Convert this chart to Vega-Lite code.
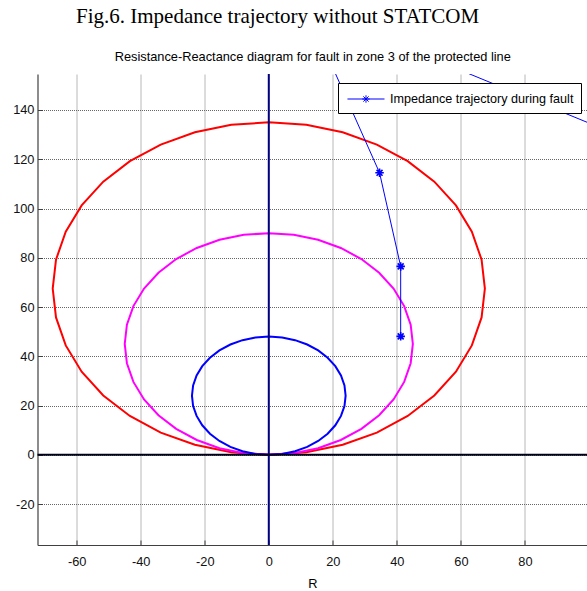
{
  "$schema": "https://vega.github.io/schema/vega-lite/v6.json",
  "width": 549.5,
  "height": 471,
  "autosize": {"type": "none"},
  "padding": {"left": 37.5, "top": 74, "right": 0, "bottom": 46},
  "background": "white",
  "title": {
    "text": "Fig.6. Impedance trajectory without STATCOM",
    "anchor": "start",
    "frame": "group",
    "dx": 38.5,
    "offset": 23,
    "font": "Liberation Serif, Times New Roman, serif",
    "fontSize": 21,
    "fontWeight": "normal",
    "color": "#000000"
  },
  "datasets": {
    "circles": [
      {"c": "#ff0000", "i": 0, "R": 0, "X": 0},
      {"c": "#ff0000", "i": 1, "R": 11.72, "X": 1.03},
      {"c": "#ff0000", "i": 2, "R": 23.09, "X": 4.07},
      {"c": "#ff0000", "i": 3, "R": 33.75, "X": 9.04},
      {"c": "#ff0000", "i": 4, "R": 43.39, "X": 15.79},
      {"c": "#ff0000", "i": 5, "R": 51.71, "X": 24.11},
      {"c": "#ff0000", "i": 6, "R": 58.46, "X": 33.75},
      {"c": "#ff0000", "i": 7, "R": 63.43, "X": 44.41},
      {"c": "#ff0000", "i": 8, "R": 66.47, "X": 55.78},
      {"c": "#ff0000", "i": 9, "R": 67.5, "X": 67.5},
      {"c": "#ff0000", "i": 10, "R": 66.47, "X": 79.22},
      {"c": "#ff0000", "i": 11, "R": 63.43, "X": 90.59},
      {"c": "#ff0000", "i": 12, "R": 58.46, "X": 101.25},
      {"c": "#ff0000", "i": 13, "R": 51.71, "X": 110.89},
      {"c": "#ff0000", "i": 14, "R": 43.39, "X": 119.21},
      {"c": "#ff0000", "i": 15, "R": 33.75, "X": 125.96},
      {"c": "#ff0000", "i": 16, "R": 23.09, "X": 130.93},
      {"c": "#ff0000", "i": 17, "R": 11.72, "X": 133.97},
      {"c": "#ff0000", "i": 18, "R": 0, "X": 135},
      {"c": "#ff0000", "i": 19, "R": -11.72, "X": 133.97},
      {"c": "#ff0000", "i": 20, "R": -23.09, "X": 130.93},
      {"c": "#ff0000", "i": 21, "R": -33.75, "X": 125.96},
      {"c": "#ff0000", "i": 22, "R": -43.39, "X": 119.21},
      {"c": "#ff0000", "i": 23, "R": -51.71, "X": 110.89},
      {"c": "#ff0000", "i": 24, "R": -58.46, "X": 101.25},
      {"c": "#ff0000", "i": 25, "R": -63.43, "X": 90.59},
      {"c": "#ff0000", "i": 26, "R": -66.47, "X": 79.22},
      {"c": "#ff0000", "i": 27, "R": -67.5, "X": 67.5},
      {"c": "#ff0000", "i": 28, "R": -66.47, "X": 55.78},
      {"c": "#ff0000", "i": 29, "R": -63.43, "X": 44.41},
      {"c": "#ff0000", "i": 30, "R": -58.46, "X": 33.75},
      {"c": "#ff0000", "i": 31, "R": -51.71, "X": 24.11},
      {"c": "#ff0000", "i": 32, "R": -43.39, "X": 15.79},
      {"c": "#ff0000", "i": 33, "R": -33.75, "X": 9.04},
      {"c": "#ff0000", "i": 34, "R": -23.09, "X": 4.07},
      {"c": "#ff0000", "i": 35, "R": -11.72, "X": 1.03},
      {"c": "#ff0000", "i": 36, "R": 0, "X": 0},
      {"c": "#ff00ff", "i": 0, "R": 0, "X": 0},
      {"c": "#ff00ff", "i": 1, "R": 7.81, "X": 0.68},
      {"c": "#ff00ff", "i": 2, "R": 15.39, "X": 2.71},
      {"c": "#ff00ff", "i": 3, "R": 22.5, "X": 6.03},
      {"c": "#ff00ff", "i": 4, "R": 28.93, "X": 10.53},
      {"c": "#ff00ff", "i": 5, "R": 34.47, "X": 16.07},
      {"c": "#ff00ff", "i": 6, "R": 38.97, "X": 22.5},
      {"c": "#ff00ff", "i": 7, "R": 42.29, "X": 29.61},
      {"c": "#ff00ff", "i": 8, "R": 44.32, "X": 37.19},
      {"c": "#ff00ff", "i": 9, "R": 45, "X": 45},
      {"c": "#ff00ff", "i": 10, "R": 44.32, "X": 52.81},
      {"c": "#ff00ff", "i": 11, "R": 42.29, "X": 60.39},
      {"c": "#ff00ff", "i": 12, "R": 38.97, "X": 67.5},
      {"c": "#ff00ff", "i": 13, "R": 34.47, "X": 73.93},
      {"c": "#ff00ff", "i": 14, "R": 28.93, "X": 79.47},
      {"c": "#ff00ff", "i": 15, "R": 22.5, "X": 83.97},
      {"c": "#ff00ff", "i": 16, "R": 15.39, "X": 87.29},
      {"c": "#ff00ff", "i": 17, "R": 7.81, "X": 89.32},
      {"c": "#ff00ff", "i": 18, "R": 0, "X": 90},
      {"c": "#ff00ff", "i": 19, "R": -7.81, "X": 89.32},
      {"c": "#ff00ff", "i": 20, "R": -15.39, "X": 87.29},
      {"c": "#ff00ff", "i": 21, "R": -22.5, "X": 83.97},
      {"c": "#ff00ff", "i": 22, "R": -28.93, "X": 79.47},
      {"c": "#ff00ff", "i": 23, "R": -34.47, "X": 73.93},
      {"c": "#ff00ff", "i": 24, "R": -38.97, "X": 67.5},
      {"c": "#ff00ff", "i": 25, "R": -42.29, "X": 60.39},
      {"c": "#ff00ff", "i": 26, "R": -44.32, "X": 52.81},
      {"c": "#ff00ff", "i": 27, "R": -45, "X": 45},
      {"c": "#ff00ff", "i": 28, "R": -44.32, "X": 37.19},
      {"c": "#ff00ff", "i": 29, "R": -42.29, "X": 29.61},
      {"c": "#ff00ff", "i": 30, "R": -38.97, "X": 22.5},
      {"c": "#ff00ff", "i": 31, "R": -34.47, "X": 16.07},
      {"c": "#ff00ff", "i": 32, "R": -28.93, "X": 10.53},
      {"c": "#ff00ff", "i": 33, "R": -22.5, "X": 6.03},
      {"c": "#ff00ff", "i": 34, "R": -15.39, "X": 2.71},
      {"c": "#ff00ff", "i": 35, "R": -7.81, "X": 0.68},
      {"c": "#ff00ff", "i": 36, "R": 0, "X": 0},
      {"c": "#0000ff", "i": 0, "R": 0, "X": 0},
      {"c": "#0000ff", "i": 1, "R": 4.17, "X": 0.36},
      {"c": "#0000ff", "i": 2, "R": 8.21, "X": 1.45},
      {"c": "#0000ff", "i": 3, "R": 12, "X": 3.22},
      {"c": "#0000ff", "i": 4, "R": 15.43, "X": 5.62},
      {"c": "#0000ff", "i": 5, "R": 18.38, "X": 8.57},
      {"c": "#0000ff", "i": 6, "R": 20.78, "X": 12},
      {"c": "#0000ff", "i": 7, "R": 22.55, "X": 15.79},
      {"c": "#0000ff", "i": 8, "R": 23.64, "X": 19.83},
      {"c": "#0000ff", "i": 9, "R": 24, "X": 24},
      {"c": "#0000ff", "i": 10, "R": 23.64, "X": 28.17},
      {"c": "#0000ff", "i": 11, "R": 22.55, "X": 32.21},
      {"c": "#0000ff", "i": 12, "R": 20.78, "X": 36},
      {"c": "#0000ff", "i": 13, "R": 18.38, "X": 39.43},
      {"c": "#0000ff", "i": 14, "R": 15.43, "X": 42.38},
      {"c": "#0000ff", "i": 15, "R": 12, "X": 44.78},
      {"c": "#0000ff", "i": 16, "R": 8.21, "X": 46.55},
      {"c": "#0000ff", "i": 17, "R": 4.17, "X": 47.64},
      {"c": "#0000ff", "i": 18, "R": 0, "X": 48},
      {"c": "#0000ff", "i": 19, "R": -4.17, "X": 47.64},
      {"c": "#0000ff", "i": 20, "R": -8.21, "X": 46.55},
      {"c": "#0000ff", "i": 21, "R": -12, "X": 44.78},
      {"c": "#0000ff", "i": 22, "R": -15.43, "X": 42.38},
      {"c": "#0000ff", "i": 23, "R": -18.38, "X": 39.43},
      {"c": "#0000ff", "i": 24, "R": -20.78, "X": 36},
      {"c": "#0000ff", "i": 25, "R": -22.55, "X": 32.21},
      {"c": "#0000ff", "i": 26, "R": -23.64, "X": 28.17},
      {"c": "#0000ff", "i": 27, "R": -24, "X": 24},
      {"c": "#0000ff", "i": 28, "R": -23.64, "X": 19.83},
      {"c": "#0000ff", "i": 29, "R": -22.55, "X": 15.79},
      {"c": "#0000ff", "i": 30, "R": -20.78, "X": 12},
      {"c": "#0000ff", "i": 31, "R": -18.38, "X": 8.57},
      {"c": "#0000ff", "i": 32, "R": -15.43, "X": 5.62},
      {"c": "#0000ff", "i": 33, "R": -12, "X": 3.22},
      {"c": "#0000ff", "i": 34, "R": -8.21, "X": 1.45},
      {"c": "#0000ff", "i": 35, "R": -4.17, "X": 0.36},
      {"c": "#0000ff", "i": 36, "R": 0, "X": 0}
    ],
    "traj": [
      {"s": "Impedance trajectory during fault", "i": 0, "R": 41.2, "X": 48.1},
      {"s": "Impedance trajectory during fault", "i": 1, "R": 41.2, "X": 76.5},
      {"s": "Impedance trajectory during fault", "i": 2, "R": 34.6, "X": 114.5},
      {"s": "Impedance trajectory during fault", "i": 3, "R": 11.5, "X": 182},
      {"s": "Impedance trajectory during fault", "i": 4, "R": 120, "X": 124}
    ]
  },
  "layer": [
    {
      "data": {"name": "circles"},
      "mark": {"type": "line", "strokeWidth": 2, "clip": true},
      "encoding": {
        "x": {
          "field": "R", "type": "quantitative",
          "scale": {"domain": [-72.25, 99.4], "nice": false, "zero": false},
          "axis": {
            "orient": "bottom",
            "values": [-60, -40, -20, 0, 20, 40, 60, 80],
            "labelExpr": "'' + datum.value",
            "title": "R",
            "grid": true, "gridColor": "#b8b8b8", "gridWidth": 1,
            "domainColor": "#404040", "domainWidth": 1.2,
            "tickColor": "#404040", "tickSize": -5,
            "labelPadding": 15, "titlePadding": 10,
            "labelFlush": false, "labelOverlap": false
          }
        },
        "y": {
          "field": "X", "type": "quantitative",
          "scale": {"domain": [-36.6, 154.6], "nice": false, "zero": false},
          "axis": {
            "values": [-20, 0, 20, 40, 60, 80, 100, 120, 140],
            "labelExpr": "'' + datum.value",
            "title": null,
            "grid": true, "gridColor": "#666666", "gridDash": [1, 1], "gridWidth": 1,
            "domainColor": "#404040", "domainWidth": 1.2,
            "tickColor": "#404040", "tickSize": -5,
            "labelPadding": 8.5,
            "labelFlush": false, "labelOverlap": false
          }
        },
        "stroke": {"field": "c", "type": "nominal", "scale": null, "legend": null},
        "order": {"field": "i", "type": "quantitative"}
      }
    },
    {
      "data": {"values": [{"R": 0}]},
      "mark": {"type": "rule", "color": "#000080", "strokeWidth": 2},
      "encoding": {
        "x": {"field": "R", "type": "quantitative", "axis": null}
      }
    },
    {
      "data": {"values": [{"X": 0}]},
      "mark": {"type": "rule", "color": "#00001a", "strokeWidth": 2},
      "encoding": {
        "y": {"field": "X", "type": "quantitative", "axis": {"title": null}}
      }
    },
    {
      "data": {"name": "traj"},
      "mark": {"type": "line", "strokeWidth": 1, "clip": true},
      "encoding": {
        "x": {
          "field": "R", "type": "quantitative",
          "axis": {
            "orient": "top",
            "title": "Resistance-Reactance diagram for fault in zone 3 of the protected line",
            "labels": false, "ticks": false, "domain": false, "grid": false,
            "titlePadding": 11
          }
        },
        "y": {"field": "X", "type": "quantitative", "axis": {"title": null}},
        "color": {
          "field": "s", "type": "nominal",
          "scale": {"domain": ["Impedance trajectory during fault"], "range": ["#0000ff"]},
          "legend": {
            "orient": "none", "legendX": 300.5, "legendY": 9, "title": null,
            "strokeColor": "#000000", "fillColor": "#ffffff", "padding": 7,
            "symbolType": "M-0.77,0L3.59,0M1.41,-0.435L1.41,0.435M0.975,0L1.845,0M1.1,-0.31L1.72,0.31M1.1,0.31L1.72,-0.31",
            "symbolSize": 289, "symbolStrokeWidth": 1, "symbolStrokeColor": "#0000ff",
            "symbolFillColor": "transparent",
            "labelOffset": 27, "labelLimit": 0, "cornerRadius": 0
          }
        },
        "order": {"field": "i", "type": "quantitative"}
      }
    },
    {
      "data": {"name": "traj"},
      "mark": {
        "type": "point", "shape": "M-1,0L1,0M0,-1L0,1M-0.7,-0.7L0.7,0.7M-0.7,0.7L0.7,-0.7",
        "filled": false, "size": 72, "strokeWidth": 1.6, "opacity": 1, "clip": true
      },
      "encoding": {
        "x": {"field": "R", "type": "quantitative", "axis": null},
        "y": {"field": "X", "type": "quantitative", "axis": {"title": null}},
        "color": {
          "field": "s", "type": "nominal",
          "scale": {"domain": ["Impedance trajectory during fault"], "range": ["#0000ff"]},
          "legend": {
            "orient": "none", "legendX": 300.5, "legendY": 9, "title": null,
            "strokeColor": "#000000", "fillColor": "#ffffff", "padding": 7,
            "symbolType": "M-0.77,0L3.59,0M1.41,-0.435L1.41,0.435M0.975,0L1.845,0M1.1,-0.31L1.72,0.31M1.1,0.31L1.72,-0.31",
            "symbolSize": 289, "symbolStrokeWidth": 1, "symbolStrokeColor": "#0000ff",
            "symbolFillColor": "transparent",
            "labelOffset": 27, "labelLimit": 0, "cornerRadius": 0
          }
        }
      }
    }
  ],
  "resolve": {"axis": {"x": "independent"}},
  "config": {
    "view": {"stroke": null},
    "font": "Liberation Sans, Arial, sans-serif",
    "axis": {
      "labelFont": "Liberation Sans, Arial, sans-serif",
      "labelFontSize": 12.8,
      "labelColor": "#111111",
      "titleFont": "Liberation Sans, Arial, sans-serif",
      "titleFontSize": 12.8,
      "titleFontWeight": "normal",
      "titleColor": "#000000"
    },
    "legend": {
      "labelFont": "Liberation Sans, Arial, sans-serif",
      "labelFontSize": 12.6,
      "labelColor": "#000000"
    }
  }
}
